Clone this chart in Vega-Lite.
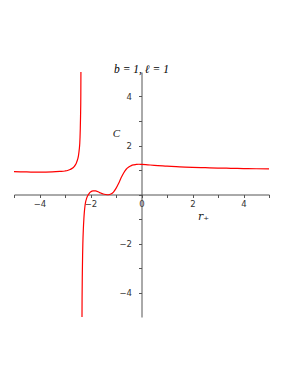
{
  "$schema": "https://vega.github.io/schema/vega-lite/v6.json",
  "width": 255,
  "height": 245,
  "autosize": {"type": "none"},
  "padding": {"left": 14, "top": 72, "right": 22, "bottom": 59},
  "background": "white",
  "title": {"text": "b = 1, ℓ = 1", "font": "Liberation Serif", "fontStyle": "italic", "fontWeight": "normal", "fontSize": 11.5, "color": "black", "anchor": "middle", "offset": -14, "baseline": "bottom"},
  "config": {"view": {"stroke": null}},
  "data": {"values": [
    {"seg": "a", "x": -5.0, "C": 0.93},
    {"seg": "a", "x": -4.5, "C": 0.92},
    {"seg": "a", "x": -4.0, "C": 0.91},
    {"seg": "a", "x": -3.5, "C": 0.92},
    {"seg": "a", "x": -3.2, "C": 0.94},
    {"seg": "a", "x": -3.0, "C": 0.96},
    {"seg": "a", "x": -2.9, "C": 0.98},
    {"seg": "a", "x": -2.8, "C": 1.02},
    {"seg": "a", "x": -2.7, "C": 1.08},
    {"seg": "a", "x": -2.65, "C": 1.13},
    {"seg": "a", "x": -2.6, "C": 1.2},
    {"seg": "a", "x": -2.55, "C": 1.3},
    {"seg": "a", "x": -2.5, "C": 1.45},
    {"seg": "a", "x": -2.47, "C": 1.6},
    {"seg": "a", "x": -2.44, "C": 1.85},
    {"seg": "a", "x": -2.42, "C": 2.1},
    {"seg": "a", "x": -2.41, "C": 2.35},
    {"seg": "a", "x": -2.40, "C": 2.7},
    {"seg": "a", "x": -2.39, "C": 3.2},
    {"seg": "a", "x": -2.38, "C": 4.0},
    {"seg": "a", "x": -2.375, "C": 5.2},
    {"seg": "b", "x": -2.335, "C": -5.3},
    {"seg": "b", "x": -2.33, "C": -4.2},
    {"seg": "b", "x": -2.32, "C": -3.2},
    {"seg": "b", "x": -2.31, "C": -2.5},
    {"seg": "b", "x": -2.30, "C": -2.0},
    {"seg": "b", "x": -2.28, "C": -1.4},
    {"seg": "b", "x": -2.26, "C": -1.0},
    {"seg": "b", "x": -2.24, "C": -0.7},
    {"seg": "b", "x": -2.22, "C": -0.5},
    {"seg": "b", "x": -2.2, "C": -0.35},
    {"seg": "b", "x": -2.15, "C": -0.15},
    {"seg": "b", "x": -2.1, "C": -0.03},
    {"seg": "b", "x": -2.05, "C": 0.05},
    {"seg": "b", "x": -2.0, "C": 0.1},
    {"seg": "b", "x": -1.9, "C": 0.15},
    {"seg": "b", "x": -1.8, "C": 0.15},
    {"seg": "b", "x": -1.7, "C": 0.11},
    {"seg": "b", "x": -1.6, "C": 0.06},
    {"seg": "b", "x": -1.5, "C": 0.02},
    {"seg": "b", "x": -1.4, "C": 0.0},
    {"seg": "b", "x": -1.3, "C": -0.01},
    {"seg": "b", "x": -1.2, "C": 0.02},
    {"seg": "b", "x": -1.1, "C": 0.1},
    {"seg": "b", "x": -1.0, "C": 0.25},
    {"seg": "b", "x": -0.9, "C": 0.45},
    {"seg": "b", "x": -0.8, "C": 0.68},
    {"seg": "b", "x": -0.7, "C": 0.88},
    {"seg": "b", "x": -0.6, "C": 1.03},
    {"seg": "b", "x": -0.5, "C": 1.12},
    {"seg": "b", "x": -0.4, "C": 1.18},
    {"seg": "b", "x": -0.3, "C": 1.21},
    {"seg": "b", "x": -0.2, "C": 1.23},
    {"seg": "b", "x": -0.1, "C": 1.235},
    {"seg": "b", "x": 0.0, "C": 1.23},
    {"seg": "b", "x": 0.25, "C": 1.21},
    {"seg": "b", "x": 0.5, "C": 1.19},
    {"seg": "b", "x": 1.0, "C": 1.16},
    {"seg": "b", "x": 1.5, "C": 1.13},
    {"seg": "b", "x": 2.0, "C": 1.11},
    {"seg": "b", "x": 2.5, "C": 1.095},
    {"seg": "b", "x": 3.0, "C": 1.08},
    {"seg": "b", "x": 3.5, "C": 1.07},
    {"seg": "b", "x": 4.0, "C": 1.06},
    {"seg": "b", "x": 4.5, "C": 1.05},
    {"seg": "b", "x": 5.0, "C": 1.045}
  ]},
  "mark": {"type": "line", "color": "#ff0000", "strokeWidth": 1.2, "clip": true, "interpolate": "monotone"},
  "encoding": {
    "detail": {"field": "seg"},
    "x": {"field": "x", "type": "quantitative",
      "scale": {"domain": [-5, 5], "nice": false, "zero": false},
      "axis": {"offset": -122.5, "values": [-5, -4, -3, -2, -1, 0, 1, 2, 3, 4, 5],
        "labelExpr": "datum.value % 2 == 0 ? datum.label : ''",
        "grid": false, "domainColor": "#555555", "domainWidth": 1, "tickColor": "#555555", "tickSize": 3,
        "labelFont": "DejaVu Sans", "labelFontSize": 8.5, "labelColor": "#333333", "labelPadding": 2,
        "title": "r₊", "titleFont": "DejaVu Serif", "titleFontStyle": "italic", "titleFontWeight": "normal", "titleFontSize": 11,
        "titleColor": "#222222", "titleX": 189, "titleY": 22, "titleBaseline": "middle", "titleAlign": "center"}},
    "y": {"field": "C", "type": "quantitative",
      "scale": {"domain": [-5, 5], "nice": false, "zero": false},
      "axis": {"offset": -127.5, "values": [-4, -3, -2, -1, 0, 1, 2, 3, 4],
        "labelExpr": "datum.value % 2 == 0 && datum.value != 0 ? datum.label : ''",
        "grid": false, "domainColor": "#555555", "domainWidth": 1, "tickColor": "#555555", "tickSize": 3,
        "labelFont": "DejaVu Sans", "labelFontSize": 8.5, "labelColor": "#333333", "labelPadding": 7,
        "title": "C", "titleFont": "Liberation Serif", "titleFontStyle": "italic", "titleFontWeight": "normal", "titleFontSize": 11,
        "titleColor": "#222222", "titleAngle": 0, "titleX": -25.5, "titleY": 61, "titleBaseline": "middle", "titleAlign": "center"}}
  }
}
